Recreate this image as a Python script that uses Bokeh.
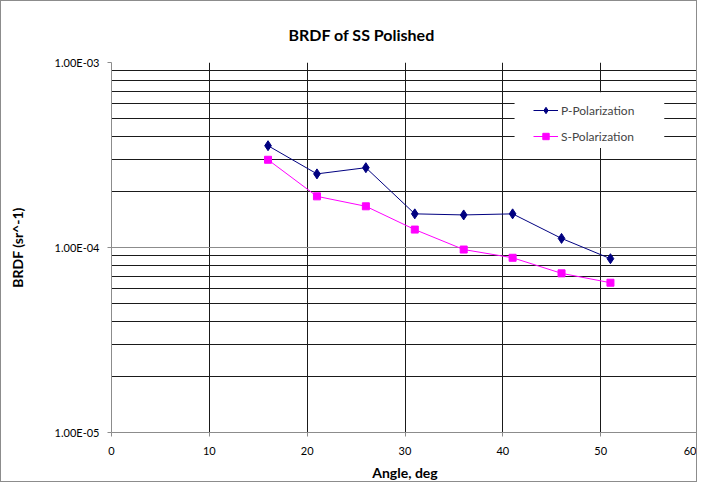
from bokeh.plotting import figure
from bokeh.models import Range1d, FixedTicker, CustomJSTickFormatter, Legend, LegendItem, BoxAnnotation
from bokeh.embed import file_html
from bokeh.resources import INLINE

angles = [16, 21, 26, 31, 36, 41, 46, 51]
p_pol = [3.55e-4, 2.50e-4, 2.70e-4, 1.52e-4, 1.50e-4, 1.52e-4, 1.12e-4, 8.7e-5]
s_pol = [2.98e-4, 1.89e-4, 1.67e-4, 1.25e-4, 9.75e-5, 8.8e-5, 7.25e-5, 6.45e-5]
x_ticks = [0, 10, 20, 30, 40, 50, 60]
y_major = [1e-5, 1e-4, 1e-3]
y_minor = [m * d for d in (1e-5, 1e-4) for m in range(2, 10)]

FONT = "Lato"

p = figure(width=697, height=482, y_axis_type="log",
           x_range=Range1d(0, 60), y_range=Range1d(1e-5, 1e-3),
           output_backend="svg", toolbar_location=None,
           min_border_left=110, min_border_right=0,
           min_border_top=61, min_border_bottom=50)
p.styles = {"border": "1px solid #8c8c8c"}
p.outline_line_color = None

p.title.text = "BRDF of SS Polished"
p.title.align = "left"
p.title.text_font = FONT
p.title.text_font_size = "16px"
p.title.text_font_style = "bold"
p.title.text_color = "black"
p.title.offset = 177
p.title.standoff = 38

p.xaxis.ticker = FixedTicker(ticks=x_ticks)
p.yaxis.ticker = FixedTicker(ticks=y_major, minor_ticks=y_minor)
p.yaxis.formatter = CustomJSTickFormatter(code="""
  var s = tick.toExponential(2).toUpperCase();
  return s.replace(/E([+-])(\\d)$/, 'E$10$2');
""")

for ax in (p.xaxis, p.yaxis):
    ax.axis_line_color = "#8c8c8c"
    ax.major_tick_line_color = "#8c8c8c"
    ax.major_tick_out = 4
    ax.major_tick_in = 0
    ax.minor_tick_line_color = None
    ax.major_label_text_font = FONT
    ax.major_label_text_font_size = "11px"
    ax.major_label_text_color = "black"
    ax.axis_label_text_font = FONT
    ax.axis_label_text_font_size = "14px"
    ax.axis_label_text_font_style = "bold"
    ax.axis_label_text_color = "black"

p.xaxis.axis_label = "Angle, deg"
p.yaxis.axis_label = "BRDF (sr^-1)"
p.xaxis.major_label_standoff = 10
p.xaxis.axis_label_standoff = 6
p.yaxis.major_label_standoff = 8
p.yaxis.axis_label_standoff = 26

p.xgrid.grid_line_color = "#1a1a1a"
p.xgrid.grid_line_width = 1
p.ygrid.grid_line_color = "#8c8c8c"
p.ygrid.minor_grid_line_color = "#1a1a1a"
p.ygrid.minor_grid_line_width = 1

# white legend background box (covers the grid, as in the reference)
p.add_layout(BoxAnnotation(left=41.2, right=56.5, top=6.9e-4, bottom=3.45e-4,
                           fill_color="white", fill_alpha=1.0, line_color=None))

lp = p.line(angles, p_pol, line_color="#000080", line_width=1)
mp = p.scatter(angles, p_pol, marker="diamond", size=10, fill_color="#000080", line_color="#000080")
ls = p.line(angles, s_pol, line_color="#ff00ff", line_width=1)
ms = p.scatter(angles, s_pol, marker="square", size=7, fill_color="#ff00ff", line_color="#ff00ff")

legend = Legend(items=[LegendItem(label="P-Polarization", renderers=[lp, mp]),
                       LegendItem(label="S-Polarization", renderers=[ls, ms])],
                location=(422, 288), border_line_color=None,
                background_fill_alpha=0.0,
                label_text_font=FONT, label_text_font_size="12px",
                glyph_width=25, glyph_height=16, spacing=10, padding=5, margin=0,
                label_standoff=3)
p.add_layout(legend)

open("out.html", "w").write(file_html(p, INLINE))
